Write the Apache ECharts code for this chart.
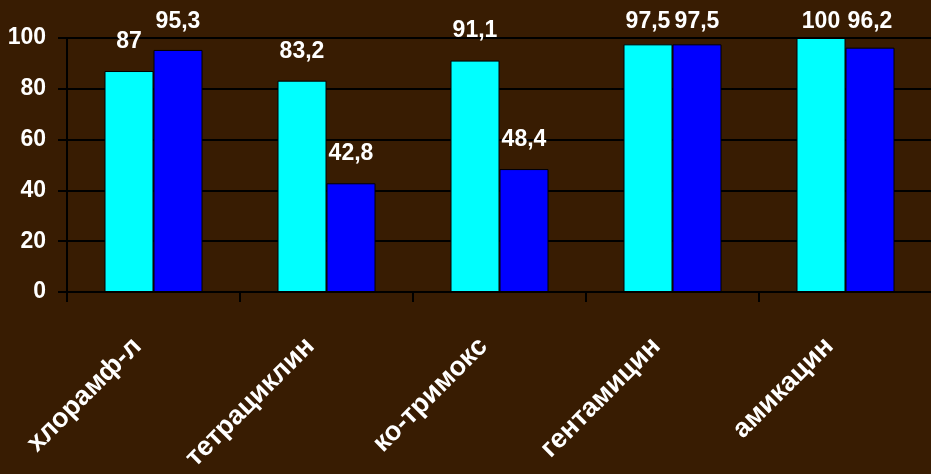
<!DOCTYPE html>
<html>
<head>
<meta charset="utf-8">
<style>
  html, body { margin: 0; padding: 0; background: #381c02; }
  #chart { width: 931px; height: 474px; }
</style>
<script src="https://cdn.jsdelivr.net/npm/echarts@6/dist/echarts.min.js"></script>
</head>
<body>
<div id="chart"></div>
<script>
// Чувствительность к антибиотикам, %
const categories = ['хлорамф-л', 'тетрациклин', 'ко-тримокс', 'гентамицин', 'амикацин'];
const series1 = [87, 83.2, 91.1, 97.5, 100];
const series2 = [95.3, 42.8, 48.4, 97.5, 96.2];
const yTicks = [0, 20, 40, 60, 80, 100];

const font = '"Liberation Sans", Arial, sans-serif';
const fmt = v => String(v).replace('.', ',');

const valueLabel = {
  show: true,
  position: 'top',
  distance: 18,
  color: '#ffffff',
  fontFamily: font,
  fontWeight: 'bold',
  fontSize: 23,
  formatter: p => fmt(p.value)
};

// keep labels of the tallest bars from running off the top
const clampTop = p => {
  const r = p.labelRect;
  const cy = r.y + r.height / 2;
  return cy < 22 ? { x: r.x + r.width / 2, y: 22, align: 'center', verticalAlign: 'middle' } : {};
};

const chart = echarts.init(document.getElementById('chart'));
chart.setOption({
  backgroundColor: '#381c02',
  animation: false,
  grid: {
    left: 67, top: 38, width: 865, height: 254,
    containLabel: false,
    outerBoundsMode: 'none'
  },
  xAxis: {
    type: 'category',
    data: categories,
    axisLine: { lineStyle: { color: '#000000', width: 2 } },
    axisTick: { show: true, length: 10, lineStyle: { color: '#000000', width: 2 } },
    axisLabel: {
      rotate: 45,
      margin: 34,
      padding: [0, 23, 0, 0],
      color: '#ffffff',
      fontFamily: font,
      fontWeight: 'bold',
      fontSize: 27,
      interval: 0
    }
  },
  yAxis: {
    type: 'value',
    min: yTicks[0],
    max: yTicks[yTicks.length - 1],
    interval: 20,
    axisLine: { show: true, lineStyle: { color: '#000000', width: 2 } },
    axisTick: { show: true, length: 9, lineStyle: { color: '#000000', width: 2 } },
    splitLine: { show: true, lineStyle: { color: '#000000', width: 2 } },
    axisLabel: {
      margin: 21,
      color: '#ffffff',
      fontFamily: font,
      fontWeight: 'bold',
      fontSize: 23,
      formatter: v => (yTicks.includes(v) ? String(v) : '')
    }
  },
  series: [
    {
      name: 'Ряд 1',
      type: 'bar',
      data: series1,
      barWidth: 49,
      barGap: '0%',
      itemStyle: { color: '#00ffff', borderColor: '#000000', borderWidth: 1 },
      label: valueLabel,
      labelLayout: clampTop
    },
    {
      name: 'Ряд 2',
      type: 'bar',
      data: series2,
      barWidth: 49,
      barGap: '0%',
      itemStyle: { color: '#0000ff', borderColor: '#000000', borderWidth: 1 },
      label: valueLabel,
      labelLayout: clampTop
    }
  ]
});
</script>
</body>
</html>
